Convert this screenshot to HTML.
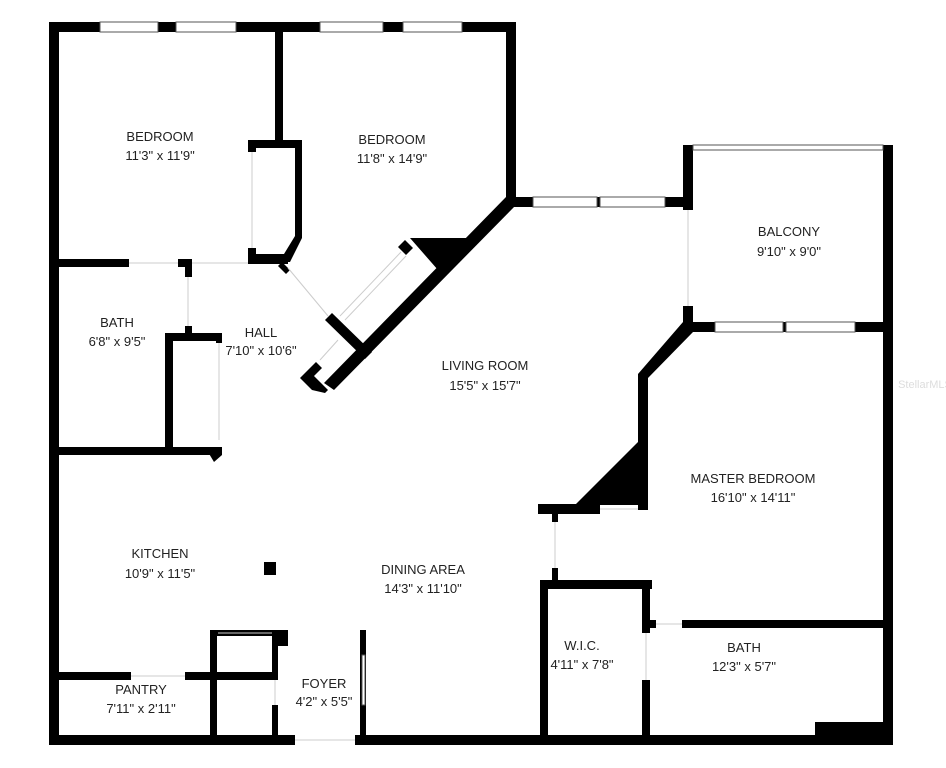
<!DOCTYPE html>
<html><head><meta charset="utf-8"><style>
html,body{margin:0;padding:0;background:#fff;width:946px;height:768px;overflow:hidden}
svg{display:block}
text{font-family:"Liberation Sans",sans-serif;font-size:13px;fill:#222;text-anchor:middle}
</style></head><body>
<svg width="946" height="768" viewBox="0 0 946 768">
<g fill="#000">
<rect x="49" y="22" width="10" height="723"/>
<rect x="49" y="22" width="467" height="10"/>
<rect x="506" y="22" width="10" height="185"/>
<rect x="506" y="197" width="187" height="10"/>
<rect x="683" y="145" width="10" height="65"/>
<rect x="683" y="306" width="10" height="26"/>
<rect x="883" y="145" width="10" height="600"/>
<rect x="683" y="322" width="210" height="10"/>
<polygon points="683,322 693,332 648,378 648,510 638,510 638,374"/>
<polygon points="575,505 640,440 640,505"/>
<rect x="538" y="504" width="62" height="10"/>
<rect x="552" y="514" width="6" height="8"/>
<rect x="552" y="568" width="6" height="12"/>
<rect x="540" y="580" width="112" height="9"/>
<rect x="540" y="580" width="8" height="165"/>
<rect x="642" y="580" width="8" height="53"/>
<rect x="642" y="680" width="8" height="65"/>
<rect x="650" y="620" width="6" height="8"/>
<rect x="682" y="620" width="211" height="8"/>
<rect x="49" y="735" width="246" height="10"/>
<rect x="355" y="735" width="538" height="10"/>
<rect x="815" y="722" width="78" height="23"/>
<rect x="275" y="22" width="8" height="122"/>
<polygon points="248,140 302,140 302,238 290,262 248,262 248,254 284,254 295,236 295,148 256,148 256,140"/>
<rect x="248" y="140" width="8" height="12"/>
<rect x="248" y="248" width="8" height="14"/>
<rect x="49" y="259" width="80" height="8"/>
<rect x="178" y="259" width="14" height="8"/>
<rect x="185" y="259" width="7" height="18"/>
<rect x="185" y="326" width="7" height="10"/>
<rect x="248" y="256" width="40" height="8"/>
<rect x="165" y="333" width="57" height="8"/>
<rect x="165" y="333" width="8" height="120"/>
<rect x="216" y="333" width="6" height="10"/>
<rect x="49" y="447" width="173" height="8"/>
<polygon points="205,447 222,447 222,455 214,462"/>
<polygon points="506,197 516,205 334,390 324,383"/>
<polygon points="410,238 470,238 438,270"/>
<polygon points="405,240 413,248 406,255 398,247" />
<polygon points="282,262 290,270 286,274 278,266"/>
<polygon points="325,320 332,313 372,352 365,359"/>
<polygon points="300,378 316,362 322,368 314,376 328,390 325,393 312,390"/>
<rect x="264" y="562" width="12" height="13"/>
<rect x="49" y="672" width="82" height="8"/>
<rect x="185" y="672" width="90" height="8"/>
<rect x="210" y="630" width="7" height="115"/>
<rect x="210" y="630" width="78" height="6"/>
<rect x="275" y="630" width="13" height="16"/>
<rect x="272" y="630" width="6" height="50"/>
<rect x="272" y="705" width="6" height="40"/>
<rect x="360" y="630" width="6" height="105"/>
</g>
<g fill="#fff" stroke="#555" stroke-width="1">
<rect x="100" y="22" width="58" height="10"/>
<rect x="176" y="22" width="60" height="10"/>
<rect x="320" y="22" width="63" height="10"/>
<rect x="403" y="22" width="59" height="10"/>
<rect x="533" y="197" width="64" height="10"/>
<rect x="600" y="197" width="65" height="10"/>
<rect x="715" y="322" width="68" height="10"/>
<rect x="786" y="322" width="69" height="10"/>
<rect x="693" y="145" width="190" height="5"/>
<rect x="362" y="655" width="3" height="50"/>
</g>
<g fill="none" stroke="#ccc" stroke-width="1">
<line x1="129" y1="263" x2="178" y2="263"/>
<line x1="192" y1="263" x2="248" y2="263"/>
<line x1="188" y1="277" x2="188" y2="326"/>
<line x1="252" y1="152" x2="252" y2="248"/>
<line x1="219" y1="343" x2="219" y2="440"/>
<line x1="288" y1="268" x2="328" y2="316"/>
<line x1="401" y1="252" x2="340" y2="316"/>
<line x1="406" y1="256" x2="345" y2="320"/>
<line x1="338" y1="340" x2="320" y2="360"/>
<line x1="688" y1="210" x2="688" y2="306"/>
<line x1="555" y1="522" x2="555" y2="568"/>
<line x1="646" y1="633" x2="646" y2="680"/>
<line x1="656" y1="624" x2="682" y2="624"/>
<line x1="131" y1="676" x2="185" y2="676"/>
<line x1="218" y1="633" x2="272" y2="633"/>
<line x1="275" y1="680" x2="275" y2="705"/>
<line x1="295" y1="740" x2="355" y2="740"/>
<line x1="600" y1="509" x2="638" y2="509"/>
</g>
<text x="160" y="141">BEDROOM</text><text x="160" y="160">11'3" x 11'9"</text>
<text x="392" y="144">BEDROOM</text><text x="392" y="163">11'8" x 14'9"</text>
<text x="789" y="236">BALCONY</text><text x="789" y="256">9'10" x 9'0"</text>
<text x="117" y="327">BATH</text><text x="117" y="346">6'8" x 9'5"</text>
<text x="261" y="337">HALL</text><text x="261" y="355">7'10" x 10'6"</text>
<text x="485" y="370">LIVING ROOM</text><text x="485" y="390">15'5" x 15'7"</text>
<text x="753" y="483">MASTER BEDROOM</text><text x="753" y="502">16'10" x 14'11"</text>
<text x="160" y="558">KITCHEN</text><text x="160" y="578">10'9" x 11'5"</text>
<text x="423" y="574">DINING AREA</text><text x="423" y="593">14'3" x 11'10"</text>
<text x="582" y="650">W.I.C.</text><text x="582" y="669">4'11" x 7'8"</text>
<text x="744" y="652">BATH</text><text x="744" y="671">12'3" x 5'7"</text>
<text x="141" y="694">PANTRY</text><text x="141" y="713">7'11" x 2'11"</text>
<text x="324" y="688">FOYER</text><text x="324" y="706">4'2" x 5'5"</text>
<text x="925" y="388" style="fill:#ddd;font-size:11px">StellarMLS</text>
</svg>
</body></html>
